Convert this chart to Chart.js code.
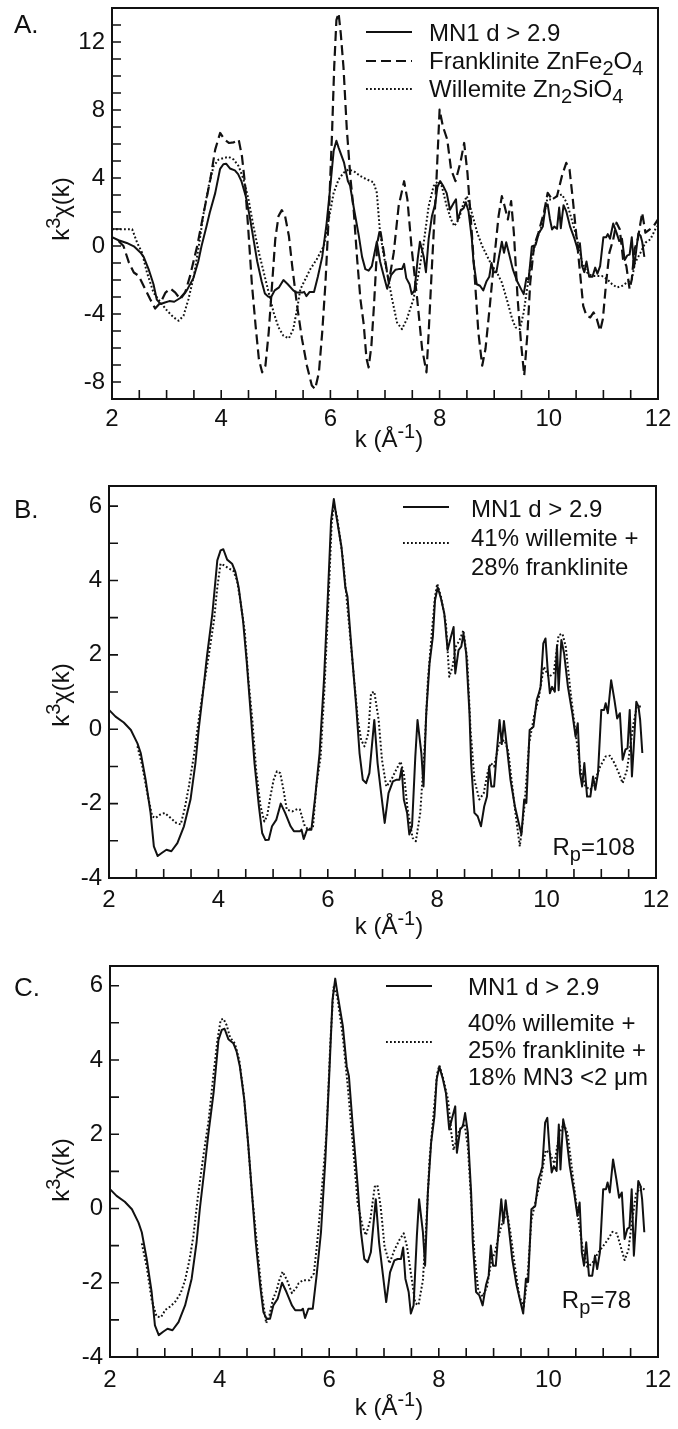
<!DOCTYPE html>
<html>
<head>
<meta charset="utf-8">
<script src="https://cdn.jsdelivr.net/npm/chart.js@4.4.0/dist/chart.umd.min.js"></script>
<style>
body{margin:0;background:#fff;}
#wrap{position:relative;width:678px;height:1429px;background:#fff;}
canvas{position:absolute;left:0;}
</style>
</head>
<body>
<div id="wrap">
<canvas id="panelA" width="678" height="470" style="top:0px"></canvas>
<canvas id="panelB" width="678" height="480" style="top:470px"></canvas>
<canvas id="panelC" width="678" height="479" style="top:950px"></canvas>
</div>
<script>
// k values and k^3 chi(k)
const mn1K = [2.00,2.12,2.27,2.40,2.52,2.58,2.67,2.76,2.82,2.89,2.97,3.05,3.14,3.25,3.37,3.49,3.58,3.64,3.73,3.79,3.89,3.98,4.04,4.09,4.16,4.25,4.31,4.37,4.45,4.52,4.59,4.66,4.74,4.80,4.86,4.92,4.98,5.06,5.14,5.22,5.32,5.38,5.49,5.52,5.56,5.62,5.70,5.77,5.85,5.93,6.00,6.06,6.11,6.15,6.25,6.32,6.36,6.43,6.52,6.58,6.64,6.70,6.76,6.85,6.91,6.96,7.04,7.11,7.19,7.25,7.31,7.35,7.39,7.45,7.49,7.54,7.60,7.64,7.71,7.75,7.80,7.86,7.92,7.96,8.01,8.07,8.13,8.19,8.25,8.30,8.33,8.39,8.44,8.48,8.53,8.59,8.62,8.68,8.74,8.80,8.86,8.91,8.95,8.99,9.04,9.09,9.14,9.18,9.22,9.27,9.34,9.42,9.49,9.54,9.59,9.63,9.69,9.76,9.82,9.86,9.89,9.94,9.98,10.02,10.06,10.10,10.15,10.19,10.22,10.27,10.32,10.39,10.47,10.53,10.57,10.61,10.65,10.69,10.74,10.80,10.85,10.89,10.94,11.00,11.05,11.08,11.12,11.18,11.24,11.29,11.34,11.39,11.44,11.48,11.52,11.56,11.59,11.64,11.68,11.71,11.75];
const mn1V = [0.52,0.34,0.18,-0.02,-0.38,-0.64,-1.36,-2.25,-3.15,-3.41,-3.32,-3.24,-3.28,-3.06,-2.61,-1.89,-0.91,0.00,1.14,1.95,3.11,4.54,4.81,4.84,4.56,4.45,4.23,3.82,2.93,1.77,0.43,-0.91,-2.07,-2.79,-2.98,-2.97,-2.61,-2.43,-2.00,-2.25,-2.61,-2.74,-2.74,-2.70,-2.95,-2.70,-2.70,-1.81,-0.64,1.32,3.56,5.61,6.19,5.79,4.90,3.82,3.56,2.22,0.61,-0.64,-1.36,-1.45,-1.18,0.25,-0.91,-1.54,-2.52,-1.72,-1.40,-1.36,-1.36,-1.05,-1.89,-2.25,-2.83,-2.61,-0.73,0.25,-0.64,-1.54,0.43,1.77,2.48,3.47,3.82,3.51,3.11,2.13,2.48,2.75,1.50,2.13,2.22,2.57,2.04,0.43,-0.91,-2.25,-2.34,-2.61,-2.07,-1.81,-1.00,-1.54,-1.54,-0.60,0.25,-0.40,0.22,-0.42,-1.36,-2.07,-2.52,-2.83,-1.89,-1.98,-0.02,0.07,0.79,0.97,1.14,2.31,2.44,1.59,0.97,1.14,1.01,2.26,1.05,2.40,2.04,1.14,0.43,-0.20,0.16,-1.18,-1.54,-0.91,-1.81,-1.81,-1.27,-1.63,-1.18,0.52,0.52,0.70,0.43,1.32,0.79,0.29,0.43,-0.82,-0.55,-0.51,0.52,-1.27,-0.55,0.74,0.61,0.25,-0.64];

const frankK = [2.12,2.21,2.31,2.40,2.49,2.58,2.70,2.79,2.89,2.98,3.07,3.16,3.25,3.34,3.43,3.56,3.68,3.80,3.89,3.98,4.06,4.14,4.23,4.32,4.38,4.44,4.50,4.56,4.63,4.69,4.75,4.81,4.87,4.93,4.99,5.05,5.11,5.17,5.24,5.30,5.39,5.48,5.57,5.66,5.72,5.79,5.85,5.91,5.97,6.03,6.07,6.11,6.15,6.19,6.24,6.30,6.37,6.43,6.49,6.55,6.61,6.66,6.70,6.75,6.80,6.86,6.91,6.98,7.07,7.16,7.25,7.35,7.41,7.49,7.59,7.68,7.76,7.80,7.86,7.94,8.00,8.06,8.14,8.21,8.29,8.38,8.45,8.51,8.59,8.65,8.71,8.78,8.84,8.92,9.00,9.08,9.14,9.19,9.25,9.31,9.36,9.43,9.49,9.55,9.61,9.66,9.73,9.81,9.91,9.98,10.06,10.15,10.24,10.32,10.38,10.44,10.50,10.56,10.63,10.69,10.76,10.82,10.88,10.94,10.99,11.05,11.11,11.18,11.24,11.30,11.36,11.42,11.48,11.52,11.57,11.63,11.71,11.77,11.85,11.92,12.00];
const frankV = [0.30,0.00,-0.98,-1.56,-1.76,-2.35,-3.13,-3.68,-3.32,-2.74,-2.50,-2.74,-3.13,-2.74,-1.76,0.00,1.96,3.91,5.67,6.65,6.26,6.06,6.10,6.26,5.28,3.52,0.78,-2.15,-4.69,-6.65,-7.43,-7.04,-5.08,-2.35,0.39,1.76,2.11,1.76,0.59,-1.17,-3.52,-5.47,-7.04,-8.21,-8.41,-7.43,-5.08,-2.15,1.76,6.65,10.56,13.29,13.69,12.50,10.50,6.90,3.90,1.96,-0.78,-3.13,-4.60,-6.60,-7.14,-5.90,-3.40,0.20,1.00,-0.40,-2.15,-0.39,2.35,3.81,2.74,-0.20,-3.13,-6.06,-7.43,-5.08,-1.17,3.71,8.02,7.04,6.26,4.50,3.81,4.89,6.06,4.30,0.78,-2.15,-5.08,-7.04,-6.06,-3.52,-0.78,1.76,2.93,2.35,1.56,2.64,0.78,-3.13,-5.67,-7.62,-5.08,-2.15,0.00,0.78,1.96,3.13,2.74,2.93,4.11,4.89,4.50,2.74,0.78,-1.17,-3.52,-4.10,-4.20,-3.91,-4.30,-4.99,-4.30,-2.15,-0.39,0.39,1.37,0.98,-0.78,-1.17,-2.54,-1.96,-0.20,0.39,1.96,0.78,0.98,1.17,1.56];

const willK = [2.00,2.15,2.37,2.46,2.55,2.64,2.76,2.89,3.01,3.13,3.22,3.31,3.40,3.50,3.59,3.68,3.77,3.86,3.95,4.05,4.14,4.23,4.32,4.41,4.50,4.59,4.69,4.78,4.87,4.96,5.05,5.14,5.24,5.32,5.39,5.45,5.54,5.63,5.75,5.88,5.97,6.06,6.15,6.24,6.33,6.43,6.55,6.67,6.79,6.85,6.91,6.98,7.05,7.13,7.22,7.31,7.40,7.52,7.62,7.71,7.80,7.89,7.97,8.04,8.13,8.21,8.27,8.35,8.44,8.50,8.59,8.69,8.78,8.87,8.96,9.05,9.14,9.23,9.33,9.39,9.47,9.54,9.61,9.69,9.78,9.87,9.97,10.06,10.15,10.24,10.33,10.42,10.52,10.61,10.70,10.79,10.88,10.97,11.07,11.16,11.25,11.34,11.43,11.52,11.58,11.68,11.77,11.86,11.95,12.00];
const willV = [0.98,0.98,0.98,0.20,-0.39,-1.56,-2.74,-3.32,-3.81,-4.20,-4.40,-4.10,-3.13,-1.76,0.00,1.96,3.52,4.69,5.08,5.18,5.24,5.08,4.69,3.91,2.74,1.17,-0.39,-1.56,-2.74,-3.91,-4.79,-5.28,-5.43,-4.89,-3.71,-2.54,-1.96,-1.37,-0.78,0.00,1.56,3.13,3.91,4.30,4.50,4.40,4.11,3.91,3.75,3.13,0.78,-0.59,-1.76,-3.13,-4.50,-4.89,-4.30,-3.13,-1.56,0.20,2.35,3.52,3.81,3.52,2.35,1.56,1.17,1.56,2.54,2.93,1.96,0.78,0.00,-0.59,-1.17,-1.56,-2.15,-3.13,-4.30,-4.79,-4.89,-3.91,-2.35,-0.59,0.39,1.17,2.74,2.74,2.93,3.03,2.54,1.56,0.39,-0.98,-1.56,-1.76,-1.76,-1.76,-1.96,-2.25,-2.44,-2.35,-2.15,-1.96,-0.98,-0.39,0.20,0.39,0.98,1.20];

// 41% willemite + 28% franklinite
const fitBK = [2.52,2.61,2.70,2.79,2.85,2.93,3.02,3.13,3.23,3.31,3.38,3.46,3.55,3.64,3.73,3.82,3.92,3.98,4.04,4.10,4.19,4.27,4.34,4.40,4.48,4.55,4.62,4.69,4.77,4.84,4.89,4.95,5.01,5.07,5.13,5.19,5.25,5.35,5.45,5.49,5.58,5.65,5.73,5.79,5.87,5.94,6.01,6.07,6.11,6.17,6.28,6.37,6.46,6.55,6.61,6.67,6.74,6.79,6.85,6.93,6.99,7.07,7.16,7.25,7.33,7.39,7.46,7.55,7.61,7.69,7.77,7.83,7.90,7.96,8.00,8.07,8.16,8.22,8.28,8.34,8.41,8.48,8.55,8.61,8.68,8.77,8.85,8.92,8.98,9.04,9.13,9.23,9.30,9.37,9.43,9.51,9.59,9.68,9.77,9.86,9.95,10.04,10.13,10.22,10.29,10.35,10.44,10.53,10.62,10.71,10.80,10.89,10.98,11.08,11.16,11.24,11.32,11.39,11.47,11.53,11.59,11.65,11.73];
const fitBV = [-0.46,-1.00,-1.72,-2.34,-2.39,-2.30,-2.25,-2.39,-2.52,-2.56,-2.16,-1.54,-0.73,0.25,1.14,1.95,2.93,3.82,4.45,4.41,4.32,4.27,4.00,3.47,2.66,1.32,0.25,-1.09,-2.07,-2.48,-2.34,-1.81,-1.36,-1.13,-1.18,-1.63,-2.16,-2.21,-2.14,-2.16,-2.61,-2.70,-2.61,-1.54,-0.73,1.14,3.38,5.52,6.06,5.70,4.54,3.11,1.68,0.25,-0.29,-0.46,-0.11,0.97,1.01,0.25,-0.82,-1.54,-1.36,-1.09,-0.87,-1.18,-2.16,-2.92,-3.01,-2.25,-0.46,1.32,2.57,3.56,3.91,3.56,2.84,1.41,1.68,2.22,2.40,2.66,1.86,-0.02,-1.36,-1.89,-1.72,-1.18,-0.91,-1.00,-0.38,-0.29,-0.60,-1.50,-2.25,-3.15,-2.16,-0.38,0.34,0.88,1.68,1.41,1.50,2.53,2.57,2.22,0.97,-0.11,-1.09,-1.54,-1.63,-1.36,-1.00,-0.73,-0.71,-0.91,-1.18,-1.45,-1.09,-0.46,0.16,0.61,0.61];

// 40% willemite + 25% franklinite + 18% MN3 <2 um
const fitCK = [2.58,2.67,2.76,2.85,2.93,3.01,3.10,3.19,3.29,3.37,3.45,3.52,3.61,3.71,3.80,3.89,3.96,4.02,4.07,4.13,4.19,4.28,4.36,4.44,4.51,4.59,4.68,4.77,4.85,4.91,4.97,5.04,5.09,5.15,5.23,5.32,5.41,5.44,5.52,5.64,5.72,5.78,5.85,5.95,6.02,6.08,6.15,6.25,6.34,6.43,6.52,6.61,6.67,6.75,6.83,6.88,6.94,7.01,7.10,7.19,7.28,7.36,7.42,7.50,7.57,7.63,7.71,7.77,7.83,7.91,7.97,8.01,8.09,8.17,8.23,8.27,8.35,8.41,8.47,8.53,8.59,8.65,8.72,8.80,8.88,8.96,9.02,9.09,9.17,9.25,9.31,9.39,9.47,9.55,9.62,9.69,9.77,9.86,9.95,10.03,10.11,10.20,10.28,10.35,10.44,10.53,10.62,10.71,10.80,10.90,10.99,11.08,11.17,11.25,11.32,11.39,11.46,11.52,11.60,11.69,11.77];
const fitCV = [-0.94,-1.57,-2.46,-2.91,-2.93,-2.73,-2.64,-2.51,-2.28,-1.93,-1.39,-0.76,0.40,1.48,2.37,3.63,4.53,5.08,5.11,4.93,4.61,4.44,3.99,3.09,1.93,0.40,-0.94,-2.28,-3.09,-2.87,-2.46,-2.20,-1.93,-1.70,-1.93,-2.28,-2.11,-2.02,-1.93,-1.93,-1.75,-0.94,0.22,2.02,4.44,5.96,5.69,4.61,3.27,1.75,0.13,-0.49,-0.72,-0.31,0.58,0.63,0.04,-1.03,-1.48,-1.12,-0.85,-0.67,-1.03,-1.84,-2.55,-2.60,-1.93,-0.49,1.30,2.64,3.63,3.85,3.45,2.91,2.02,1.57,2.02,2.20,2.28,1.66,0.22,-1.21,-2.20,-2.37,-2.11,-1.39,-1.21,-0.76,-0.31,-0.13,-0.67,-1.57,-2.37,-2.64,-1.84,-0.31,0.22,0.76,1.57,1.48,1.21,2.02,2.28,2.02,0.94,-0.13,-1.03,-1.57,-1.48,-1.21,-1.03,-0.85,-0.63,-0.67,-1.03,-1.39,-1.12,-0.40,0.40,0.58,0.49];

const xTicks = [2, 4, 6, 8, 10, 12];
const yTicksA = [-8, -4, 0, 4, 8, 12];
const yTicksBC = [-4, -2, 0, 2, 4, 6];

const INK = '#111';
const FONT = '"Liberation Sans", Arial, Helvetica, sans-serif';
const SOLID = [];
const DASHED = [10, 5];
const DOTTED = [1.8, 2.2];

function pts(ks, vs){
	return ks.map(function(k, i){ return {x: k, y: vs[i]}; });
}

// text with lowered / raised parts: [[text, 1 = sub, 2 = sup], ...]
function richWidth(ctx, parts, size){
	var w = 0;
	parts.forEach(function(p){
		ctx.font = (p[1] ? Math.round(size * 0.82) : size) + 'px ' + FONT;
		w += ctx.measureText(p[0]).width;
	});
	return w;
}
function drawRich(ctx, parts, x, y, size, align){
	var w = richWidth(ctx, parts, size);
	var cx = x;
	if(align === 'right') cx = x - w;
	if(align === 'center') cx = x - w / 2;
	ctx.textBaseline = 'alphabetic';
	ctx.textAlign = 'left';
	parts.forEach(function(p){
		ctx.font = (p[1] ? Math.round(size * 0.82) : size) + 'px ' + FONT;
		var dy = p[1] === 1 ? size * 0.27 : (p[1] === 2 ? -size * 0.38 : 0);
		ctx.fillText(p[0], cx, y + dy);
		cx += ctx.measureText(p[0]).width;
	});
}

function framePlugin(cfg){
	return {
		id: 'frame' + cfg.id,
		afterDatasetsDraw: function(chart){
			var ctx = chart.ctx, a = chart.chartArea;
			var xs = chart.scales.x, ys = chart.scales.y;
			ctx.save();
			ctx.strokeStyle = INK;
			ctx.setLineDash([]);
			ctx.lineWidth = 1.6;
			ctx.beginPath();
			for(var v = xs.min + 0.5; v < xs.max - 0.01; v += 0.5){
				var px = xs.getPixelForValue(v);
				ctx.moveTo(px, a.bottom);
				ctx.lineTo(px, a.bottom - 9);
			}
			for(var j = Math.floor(ys.min) + 1; j < ys.max - 0.01; j++){
				var py = ys.getPixelForValue(j);
				ctx.moveTo(a.left, py);
				ctx.lineTo(a.left + 9, py);
			}
			ctx.stroke();
			ctx.lineWidth = 2;
			ctx.strokeRect(a.left, a.top, a.right - a.left, a.bottom - a.top);
			ctx.restore();
		}
	};
}

function textPlugin(cfg){
	return {
		id: 'text' + cfg.id,
		afterDraw: function(chart){
			var ctx = chart.ctx, a = chart.chartArea;
			ctx.save();
			ctx.fillStyle = INK;
			ctx.strokeStyle = INK;
			ctx.lineCap = 'butt';
			cfg.keyLines.forEach(function(l){
				ctx.beginPath();
				ctx.setLineDash(l.dash);
				ctx.lineWidth = l.w;
				ctx.moveTo(l.x1, l.y);
				ctx.lineTo(l.x2, l.y);
				ctx.stroke();
			});
			ctx.setLineDash([]);
			cfg.texts.forEach(function(t){
				drawRich(ctx, t.parts, t.x, t.y, t.size, t.align);
			});
			// axis titles
			drawRich(ctx, [['k (Å'], ['-1', 2], [')']], cfg.xTitleX, a.bottom + cfg.xTitleDy, 24, 'center');
			ctx.translate(cfg.yTitleX, cfg.yTitleY);
			ctx.rotate(-Math.PI / 2);
			drawRich(ctx, [['k'], ['3', 2], ['χ(k)']], 0, 0, 24, 'center');
			ctx.restore();
		}
	};
}

function makePanel(cfg){
	var datasets = cfg.series.map(function(s){
		return {
			data: pts(s.k, s.v),
			borderColor: INK,
			borderWidth: s.w,
			borderDash: s.dash,
			borderCapStyle: 'butt',
			borderJoinStyle: 'round',
			pointRadius: 0,
			tension: 0,
			fill: false
		};
	});
	return new Chart(document.getElementById(cfg.id), {
		type: 'line',
		data: { datasets: datasets },
		options: {
			responsive: false,
			animation: false,
			devicePixelRatio: 1,
			layout: { padding: { left: 0, top: cfg.areaTop, right: cfg.padRight, bottom: cfg.padBottom } },
			plugins: { legend: { display: false }, tooltip: { enabled: false } },
			scales: {
				x: {
					type: 'linear', min: 2, max: 12,
					grid: { display: false, drawTicks: false }, border: { display: false },
					ticks: { color: INK, font: { family: FONT, size: 24 }, padding: cfg.xTickPad, maxRotation: 0,
						callback: function(v){ return String(v); } },
					afterBuildTicks: function(s){ s.ticks = xTicks.map(function(v){ return {value: v}; }); },
					afterFit: function(s){ s.height = 40; s.paddingLeft = 0; s.paddingRight = 0; }
				},
				y: {
					type: 'linear', min: cfg.yMin, max: cfg.yMax,
					grid: { display: false, drawTicks: false }, border: { display: false },
					ticks: { color: INK, font: { family: FONT, size: 24 }, padding: 7,
						callback: function(v){ return String(v); } },
					afterBuildTicks: function(s){ s.ticks = cfg.yTicks.map(function(v){ return {value: v}; }); },
					afterFit: function(s){ s.width = cfg.areaLeft; s.paddingTop = 0; s.paddingBottom = 0; }
				}
			}
		},
		plugins: [framePlugin(cfg), textPlugin(cfg)]
	});
}

// A. MN1 with the two reference minerals
makePanel({
	id: 'panelA', yMin: -9, yMax: 14, yTicks: yTicksA,
	areaTop: 8, areaLeft: 112, padRight: 20, padBottom: 31, xTickPad: 6,
	xTitleX: 389, xTitleDy: 48, yTitleX: 69, yTitleY: 209,
	series: [
		{ k: willK, v: willV, w: 2, dash: DOTTED },
		{ k: frankK, v: frankV, w: 2.2, dash: DASHED },
		{ k: mn1K, v: mn1V, w: 2, dash: SOLID }
	],
	keyLines: [
		{ x1: 366, x2: 412, y: 32, w: 2, dash: SOLID },
		{ x1: 366, x2: 412, y: 61, w: 2.2, dash: DASHED },
		{ x1: 366, x2: 412, y: 89, w: 2, dash: DOTTED }
	],
	texts: [
		{ x: 14, y: 33, size: 26, parts: [['A.']] },
		{ x: 429, y: 41, size: 24, parts: [['MN1 d > 2.9']] },
		{ x: 429, y: 69, size: 24, parts: [['Franklinite ZnFe'], ['2', 1], ['O'], ['4', 1]] },
		{ x: 429, y: 97, size: 24, parts: [['Willemite Zn'], ['2', 1], ['SiO'], ['4', 1]] }
	]
});

// B. two component fit
makePanel({
	id: 'panelB', yMin: -4, yMax: 6.54, yTicks: yTicksBC,
	areaTop: 16, areaLeft: 109, padRight: 22, padBottom: 32, xTickPad: 8,
	xTitleX: 389, xTitleDy: 56, yTitleX: 69, yTitleY: 225,
	series: [
		{ k: fitBK, v: fitBV, w: 2, dash: DOTTED },
		{ k: mn1K, v: mn1V, w: 2, dash: SOLID }
	],
	keyLines: [
		{ x1: 403, x2: 449, y: 37, w: 2, dash: SOLID },
		{ x1: 403, x2: 449, y: 73, w: 2, dash: DOTTED }
	],
	texts: [
		{ x: 14, y: 48, size: 26, parts: [['B.']] },
		{ x: 471, y: 47, size: 24, parts: [['MN1 d > 2.9']] },
		{ x: 471, y: 76, size: 24, parts: [['41% willemite +']] },
		{ x: 471, y: 105, size: 24, parts: [['28% franklinite']] },
		{ x: 635, y: 385, size: 24, align: 'right', parts: [['R'], ['p', 1], ['=108']] }
	]
});

// C. three component fit
makePanel({
	id: 'panelC', yMin: -4, yMax: 6.53, yTicks: yTicksBC,
	areaTop: 16, areaLeft: 110, padRight: 20, padBottom: 32, xTickPad: 9,
	xTitleX: 389, xTitleDy: 58, yTitleX: 69, yTitleY: 220,
	series: [
		{ k: fitCK, v: fitCV, w: 2, dash: DOTTED },
		{ k: mn1K, v: mn1V, w: 2, dash: SOLID }
	],
	keyLines: [
		{ x1: 386, x2: 432, y: 36, w: 2, dash: SOLID },
		{ x1: 386, x2: 432, y: 92, w: 2, dash: DOTTED }
	],
	texts: [
		{ x: 14, y: 46, size: 26, parts: [['C.']] },
		{ x: 468, y: 45, size: 24, parts: [['MN1 d > 2.9']] },
		{ x: 468, y: 81, size: 24, parts: [['40% willemite +']] },
		{ x: 468, y: 108, size: 24, parts: [['25% franklinite +']] },
		{ x: 468, y: 135, size: 24, parts: [['18% MN3 <2 μm']] },
		{ x: 631, y: 358, size: 24, align: 'right', parts: [['R'], ['p', 1], ['=78']] }
	]
});
</script>
</body>
</html>
